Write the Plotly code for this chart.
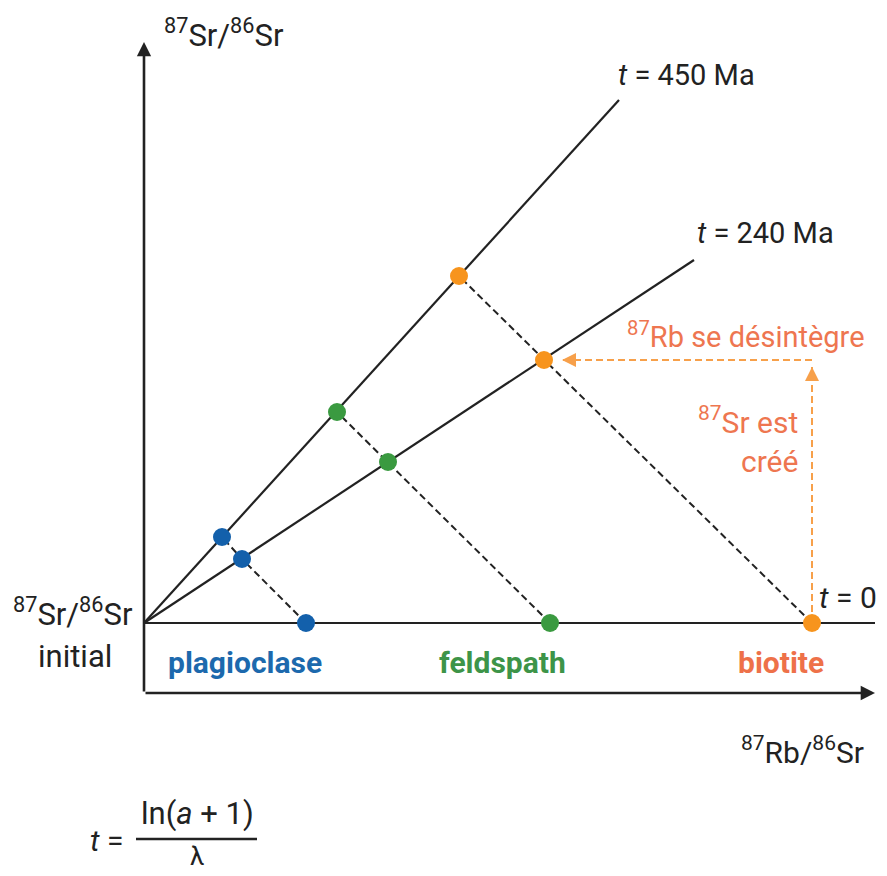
import plotly.graph_objects as go

# ---- data (x = 87Rb/86Sr, y = 87Sr/86Sr above initial, arbitrary units) ----
minerals = ["plagioclase", "feldspath", "biotite"]
mineral_colors = ["#1360ab", "#3a9a40", "#f7941d"]
label_colors = ["#1c69ad", "#3d9448", "#ee7149"]

rb_t0 = [1.62, 4.06, 6.68]
sr_t0 = [0.00, 0.00, 0.00]
rb_240 = [0.98, 2.44, 4.00]
sr_240 = [0.64, 1.61, 2.63]
rb_450 = [0.78, 1.93, 3.15]
sr_450 = [0.86, 2.11, 3.47]

initial_point = [0.0, 0.0]
iso_450_end = [4.75, 5.23]
iso_240_end = [5.50, 3.63]
t0_end = [7.31, 0.00]
axis_bottom = -0.70
yaxis_top = 5.81
xaxis_right = 7.31
arrow_h_tip = 4.18
arrow_v_tip = 2.56

FONT = "Roboto, 'Liberation Sans', sans-serif"
INK = "#222222"
ORANGE_TXT = "#ee7650"
ORANGE_ARROW = "#f7a04a"

fig = go.Figure()

# isochron lines
for end in (iso_450_end, iso_240_end, t0_end):
    fig.add_trace(go.Scatter(x=[initial_point[0], end[0]], y=[initial_point[1], end[1]],
                             mode="lines", line=dict(color=INK, width=2.2),
                             hoverinfo="skip"))

# dashed evolution paths for each mineral
for i in range(3):
    fig.add_trace(go.Scatter(x=[rb_t0[i], rb_240[i], rb_450[i]],
                             y=[sr_t0[i], sr_240[i], sr_450[i]],
                             mode="lines", line=dict(color=INK, width=2, dash="7px,4px"),
                             hoverinfo="skip"))

# orange dashed arrows (biotite)
fig.add_trace(go.Scatter(x=[rb_t0[2], rb_t0[2]], y=[sr_t0[2], arrow_v_tip],
                         mode="lines", line=dict(color=ORANGE_ARROW, width=2, dash="7px,4px"),
                         hoverinfo="skip"))
fig.add_trace(go.Scatter(x=[rb_t0[2], arrow_h_tip], y=[sr_240[2], sr_240[2]],
                         mode="lines", line=dict(color=ORANGE_ARROW, width=2, dash="7px,4px"),
                         hoverinfo="skip"))

# points
for i in range(3):
    fig.add_trace(go.Scatter(x=[rb_t0[i], rb_240[i], rb_450[i]],
                             y=[sr_t0[i], sr_240[i], sr_450[i]],
                             mode="markers",
                             marker=dict(color=mineral_colors[i], size=18, line=dict(width=0)),
                             hoverinfo="skip"))

ann = []
# axes with arrowheads
ann.append(dict(x=0, y=yaxis_top, ax=0, ay=axis_bottom, xref="x", yref="y", axref="x", ayref="y",
                showarrow=True, arrowhead=2, arrowwidth=2.6, arrowsize=1.1, arrowcolor=INK, text=""))
ann.append(dict(x=xaxis_right, y=axis_bottom, ax=0, ay=axis_bottom, xref="x", yref="y", axref="x",
                ayref="y", showarrow=True, arrowhead=2, arrowwidth=2.6, arrowsize=1.1,
                arrowcolor=INK, text=""))
# small orange arrowheads
ann.append(dict(x=arrow_h_tip, y=sr_240[2], ax=arrow_h_tip + 0.14, ay=sr_240[2], xref="x", yref="y",
                axref="x", ayref="y", showarrow=True, arrowhead=2, arrowwidth=2, arrowsize=1.4,
                arrowcolor=ORANGE_ARROW, text=""))
ann.append(dict(x=rb_t0[2], y=arrow_v_tip, ax=rb_t0[2], ay=arrow_v_tip - 0.14, xref="x", yref="y",
                axref="x", ayref="y", showarrow=True, arrowhead=2, arrowwidth=2, arrowsize=1.4,
                arrowcolor=ORANGE_ARROW, text=""))


def txt(x, y, s, color=INK, size=29, xanchor="center"):
    ann.append(dict(x=x, y=y, xref="x", yref="y", text=s, showarrow=False, xanchor=xanchor,
                    yanchor="middle", font=dict(family=FONT, size=size, color=color)))


txt(0.80, 5.90, "<sup>87</sup>Sr/<sup>86</sup>Sr", size=31)
txt(4.72, 5.48, "<i>t</i> = 450 Ma", xanchor="left")
txt(5.51, 3.90, "<i>t</i> = 240 Ma", xanchor="left")
txt(7.23, 2.88, "<sup>87</sup>Rb se désintègre", color=ORANGE_TXT, xanchor="right")
txt(6.56, 2.03, "<sup>87</sup>Sr est", color=ORANGE_TXT, xanchor="right", size=30)
txt(6.56, 1.62, "créé", color=ORANGE_TXT, xanchor="right", size=30)
txt(6.73, 0.26, "<i>t</i> = 0", xanchor="left", size=30)
txt(1.01, -0.39, "<b>" + minerals[0] + "</b>", color=label_colors[0], size=30)
txt(3.58, -0.39, "<b>" + minerals[1] + "</b>", color=label_colors[1], size=30)
txt(6.37, -0.39, "<b>" + minerals[2] + "</b>", color=label_colors[2], size=30)
txt(-0.09, 0.11, "<sup>87</sup>Sr/<sup>86</sup>Sr", xanchor="right", size=31)
txt(-0.69, -0.33, "initial", size=31)
txt(6.58, -1.27, "<sup>87</sup>Rb/<sup>86</sup>Sr", size=30)
# formula
txt(-0.19, -2.17, "<i>t</i> =", xanchor="right", size=30)
txt(0.53, -1.90, "ln(<i>a</i> + 1)", size=31)
txt(0.53, -2.33, "λ", size=26)

fig.update_layout(
    width=887, height=876,
    margin=dict(l=0, r=0, t=0, b=0),
    paper_bgcolor="white", plot_bgcolor="white",
    showlegend=False,
    xaxis=dict(range=[-1.44, 7.43], visible=False, fixedrange=True),
    yaxis=dict(range=[-2.53, 6.23], visible=False, fixedrange=True),
    annotations=ann,
    shapes=[dict(type="line", xref="x", yref="y", x0=-0.08, x1=1.13, y0=-2.16, y1=-2.16,
                 line=dict(color=INK, width=2.5))],
)

fig.write_html("out.html")
